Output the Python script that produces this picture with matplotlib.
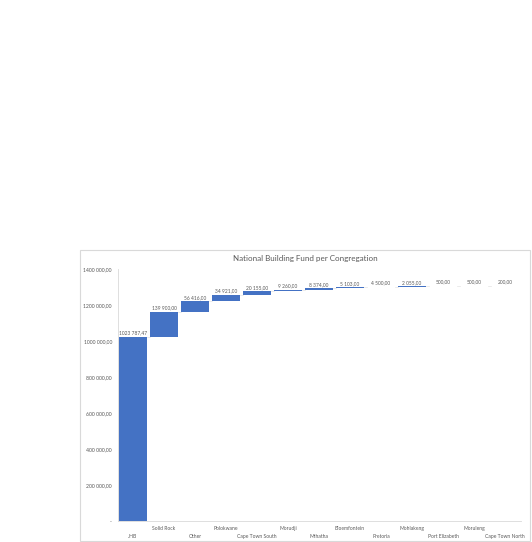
import matplotlib
matplotlib.use("Agg")
import matplotlib.pyplot as plt
from matplotlib.patches import Rectangle
import numpy as np

plt.rcParams['font.family'] = ['Lato', 'DejaVu Sans']

categories = ["JHB", "Solid Rock", "Other", "Polokwane", "Cape Town South", "Morudji",
              "Mthatha", "Bloemfontein", "Pretoria", "Mohlakeng", "Port Elizabeth",
              "Moruleng", "Cape Town North"]
values = [1023787.47, 139900, 56416, 34921, 20155, 9260, 8374, 5103, 4500, 2055, 500, 500, 200]
yticks = [0, 200000, 400000, 600000, 800000, 1000000, 1200000, 1400000]
ytick_labels = ["-", "200 000,00", "400 000,00", "600 000,00", "800 000,00",
                "1000 000,00", "1200 000,00", "1400 000,00"]
title = "National Building Fund per Congregation"

def fmt(v):
    s = f"{v:.2f}"
    ip, dp = s.split(".")
    if len(ip) > 3:
        ip = ip[:-3] + " " + ip[-3:]
    return ip + "," + dp

W, H = 532, 542
fig = plt.figure(figsize=(W / 100, H / 100), dpi=100)
fig.patch.set_facecolor("white")

# chart border
fig.patches.append(Rectangle((80 / W, 1 - 541 / H), 450 / W, 291 / H,
                             transform=fig.transFigure, fill=False,
                             edgecolor="#D9D9D9", linewidth=0.8))

ax = fig.add_axes([117.5 / W, 1 - 521 / H, 403 / W, 252 / H])
ax.set_facecolor("none")

blue = "#4472C4"
txt = "#595959"
x = np.arange(len(categories))
vals = np.array(values)
cum = np.cumsum(vals)
base = cum - vals
ax.bar(x, vals, bottom=base, width=0.93, color=blue, linewidth=0)

# connectors
for i in range(len(x) - 1):
    ax.plot([x[i] + 0.465, x[i + 1] - 0.465], [cum[i], cum[i]], color="#E3E3E3", lw=0.5)

for i, v in enumerate(values):
    ax.annotate(fmt(v), (x[i], cum[i]), xytext=(0, 1.0), textcoords="offset points",
                ha="center", va="bottom", fontsize=3.5, color=txt)

ax.set_xlim(-0.5, len(categories) - 0.5)
ax.set_ylim(0, 1400000)
ax.set_yticks(yticks)
ax.set_yticklabels(ytick_labels, fontsize=3.7, color=txt)
ax.tick_params(axis="y", length=0, pad=4)
ax.set_xticks([])
for i, c in enumerate(categories):
    off = -9.2 if i % 2 == 0 else -3.6
    ax.annotate(c, (x[i], 0), xytext=(0, off), textcoords="offset points",
                xycoords=("data", "axes fraction"),
                ha="center", va="top", fontsize=3.6, color=txt)

for s in ["top", "right"]:
    ax.spines[s].set_visible(False)
ax.spines["left"].set_color("#D9D9D9")
ax.spines["left"].set_linewidth(0.6)
ax.spines["bottom"].set_color("#D9D9D9")
ax.spines["bottom"].set_linewidth(0.6)

fig.text(305 / W, 1 - 258 / H, title, ha="center", va="center", fontsize=5.8, color=txt)

fig.savefig("out.png", dpi=100)
